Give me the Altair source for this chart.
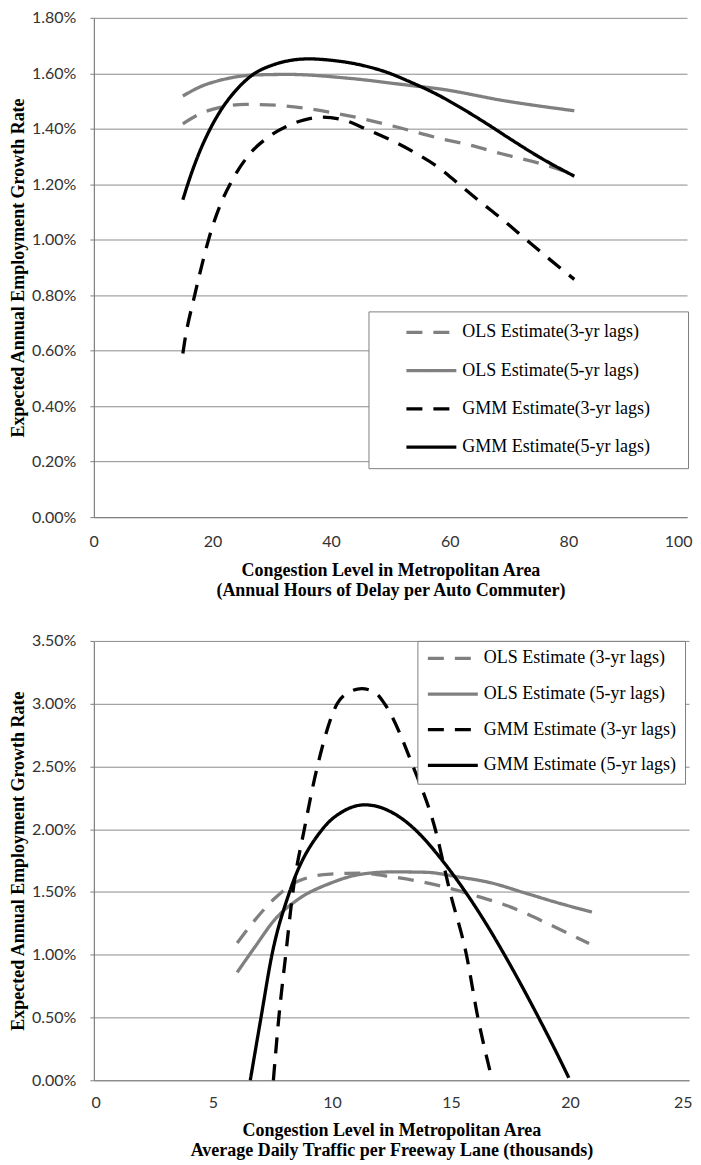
import altair as alt
import pandas as pd

# ---------------- Top panel (annual hours of delay) ----------------
top_names = ["OLS Estimate(3-yr lags)", "OLS Estimate(5-yr lags)",
             "GMM Estimate(3-yr lags)", "GMM Estimate(5-yr lags)"]

top_ols3_x = [15, 18, 21.5, 25.5, 30.6, 35.6, 41.3, 50.4, 58.2, 63.8, 68.9, 75.4, 81]
top_ols3_y = [1.418, 1.455, 1.478, 1.488, 1.485, 1.474, 1.454, 1.41, 1.366, 1.339, 1.309, 1.274, 1.235]

top_ols5_x = [15, 18, 21.5, 27.2, 32.8, 43, 53.4, 58.2, 69.5, 81]
top_ols5_y = [1.518, 1.552, 1.576, 1.594, 1.596, 1.582, 1.556, 1.544, 1.50, 1.465]

top_gmm3_x = [15, 15.3, 17, 18.4, 19.6, 21.5, 23.2, 26.1, 29.4, 32.8, 35.5, 38.5, 42.4, 45.8, 50, 54,
              58.2, 61.6, 65, 68.9, 72.9, 76.8, 81]
top_gmm3_y = [0.59, 0.632, 0.80, 0.925, 1.02, 1.135, 1.21, 1.305, 1.37, 1.412, 1.432, 1.442, 1.43, 1.40,
              1.36, 1.315, 1.259, 1.199, 1.139, 1.073, 1.0, 0.93, 0.857]

top_gmm5_x = [15, 16.2, 17.6, 19.5, 21.5, 23.8, 26.6, 30.6, 33, 36.2, 40, 45, 49.6, 53, 58.2, 62, 66.7,
              70, 75.1, 81]
top_gmm5_y = [1.144, 1.224, 1.305, 1.395, 1.47, 1.535, 1.592, 1.633, 1.646, 1.652, 1.647, 1.630, 1.602,
              1.572, 1.52, 1.474, 1.412, 1.366, 1.298, 1.229]

top_x_ticks = [0, 20, 40, 60, 80, 100]
top_y_ticks = [0.0, 0.2, 0.4, 0.6, 0.8, 1.0, 1.2, 1.4, 1.6, 1.8]
top_x_title = ["Congestion Level  in Metropolitan Area",
               "(Annual Hours of Delay per Auto Commuter)"]

# ---------------- Bottom panel (daily traffic per lane) ----------------
bot_names = ["OLS Estimate (3-yr lags)", "OLS Estimate (5-yr lags)",
             "GMM Estimate (3-yr lags)", "GMM Estimate (5-yr lags)"]

bot_ols3_x = [6.02, 6.78, 7.6, 8.57, 9.94, 11.18, 12.55, 13.93, 15.03, 15.86, 17.37, 19.43, 20.8]
bot_ols3_y = [1.093, 1.28, 1.45, 1.585, 1.643, 1.65, 1.62, 1.575, 1.525, 1.48, 1.39, 1.215, 1.09]

bot_ols5_x = [6.02, 6.78, 7.6, 8.57, 9.94, 11.18, 12.55, 13.93, 15.3, 16.68, 18.06, 19.43, 20.92]
bot_ols5_y = [0.86, 1.066, 1.28, 1.44, 1.57, 1.64, 1.66, 1.657, 1.62, 1.573, 1.495, 1.417, 1.34]

bot_gmm3_x = [7.54, 7.77, 8.06, 8.36, 8.84, 9.39, 10.22, 10.7, 11.25, 11.8, 12.21, 13.41, 14.34, 14.96,
              15.65, 16.13, 16.67]
bot_gmm3_y = [0.0, 0.5, 1.0, 1.5, 2.0, 2.5, 3.0, 3.09, 3.12, 3.09, 3.0, 2.5, 2.0, 1.5, 1.0, 0.5, 0.05]

bot_gmm5_x = [6.57, 7.03, 7.47, 8.22, 9.6, 10.5, 11.39, 12.0, 12.5, 13.0, 13.5, 14.0, 14.6, 15.5, 16.5,
              17.5, 18.5, 19.5, 19.95]
bot_gmm5_y = [0.0, 0.51, 0.99, 1.5, 2.0, 2.146, 2.194, 2.176, 2.136, 2.076, 1.996, 1.897, 1.76, 1.53,
              1.24, 0.915, 0.565, 0.195, 0.02]

bot_x_ticks = [0, 5, 10, 15, 20, 25]
bot_y_ticks = [0.0, 0.5, 1.0, 1.5, 2.0, 2.5, 3.0, 3.5]
bot_x_title = ["Congestion Level  in Metropolitan Area",
               "Average Daily Traffic per Freeway Lane (thousands)"]

y_title = "Expected Annual Employment Growth Rate"
line_colors = ["#808080", "#808080", "#000000", "#000000"]
line_dashes = [[16, 11], [1, 0], [16, 11], [1, 0]]


def frame(names, xs_list, ys_list):
    rows = []
    for name, xs, ys in zip(names, xs_list, ys_list):
        for x, y in zip(xs, ys):
            rows.append({"series": name, "x": x, "y": y / 100.0, "kind": name[:3]})
    return pd.DataFrame(rows)


def panel(df, names, xdom, xvals, ydom, yvals, w, h, xtitle, leg,
          y_title_pad, x_label_pad, x_title_pad, x_title_lh, flush_off):
    base = alt.Chart(df).mark_line(strokeWidth=3.3, interpolate="monotone", strokeCap="butt").encode(
        x=alt.X("x:Q", scale=alt.Scale(domain=xdom, nice=False, zero=False),
                axis=alt.Axis(values=xvals, title=xtitle, grid=False, ticks=False, tickSize=0,
                              labelPadding=x_label_pad, titlePadding=x_title_pad,
                              titleLineHeight=x_title_lh, format="d",
                              labelFlush=True, labelFlushOffset=flush_off)),
        y=alt.Y("y:Q", scale=alt.Scale(domain=ydom, nice=False),
                axis=alt.Axis(values=[round(v / 100.0, 5) for v in yvals], format=".2%", title=y_title,
                              grid=True, tickSize=4, labelPadding=14, titlePadding=y_title_pad)),
        color=alt.Color("series:N", scale=alt.Scale(domain=names, range=line_colors), legend=leg),
        strokeDash=alt.StrokeDash("series:N", scale=alt.Scale(domain=names, range=line_dashes), legend=leg),
    )
    return alt.layer(
        base.transform_filter(alt.datum.kind == "OLS"),
        base.transform_filter(alt.datum.kind == "GMM"),
    ).properties(width=w, height=h)


def legend(x, y, pad, row_pad, sym_off, extra_right):
    return alt.Legend(title=" ", titleOrient="right", titlePadding=extra_right, titleFontSize=4,
                      orient="none", legendX=x, legendY=y,
                      symbolType="stroke", symbolSize=2500, symbolStrokeWidth=3.3,
                      clipHeight=18, rowPadding=row_pad, padding=pad, symbolOffset=sym_off,
                      labelOffset=4, labelFont="Liberation Serif", labelFontSize=18,
                      labelColor="black", labelLimit=400,
                      fillColor="white", strokeColor="#808080")


top_df = frame(top_names, [top_ols3_x, top_ols5_x, top_gmm3_x, top_gmm5_x],
               [top_ols3_y, top_ols5_y, top_gmm3_y, top_gmm5_y])
bot_df = frame(bot_names, [bot_ols3_x, bot_ols5_x, bot_gmm3_x, bot_gmm5_x],
               [bot_ols3_y, bot_ols5_y, bot_gmm3_y, bot_gmm5_y])

top = panel(top_df, top_names, [0, 100], top_x_ticks, [0, 0.018], top_y_ticks, 594, 500,
            top_x_title, legend(275, 294, 12, 20.3, 24, 26), 4.5, 16, 12, 21, 5)
bot = panel(bot_df, bot_names, [0, 25], bot_x_ticks, [0, 0.035], bot_y_ticks, 596, 440,
            bot_x_title, legend(324, 0, 8.5, 17.7, 0, 1), 4.5, 14, 11, 20, 3)

chart = alt.concat(top, bot, columns=1, spacing=31).properties(
    padding={"top": 0, "left": 0, "right": 0, "bottom": 0}
).resolve_scale(color="independent", strokeDash="independent").configure_view(
    stroke="transparent"
).configure_axis(
    labelFont="Lato", labelFontSize=16, labelColor="#333333",
    titleFont="Liberation Serif", titleFontSize=18, titleFontWeight="bold", titleColor="black",
    domainColor="#808080", gridColor="#8c8c8c", tickColor="#808080", gridWidth=1, domainWidth=1.2
)

chart.save("out.html", embed_options={"renderer": "svg", "actions": False})
